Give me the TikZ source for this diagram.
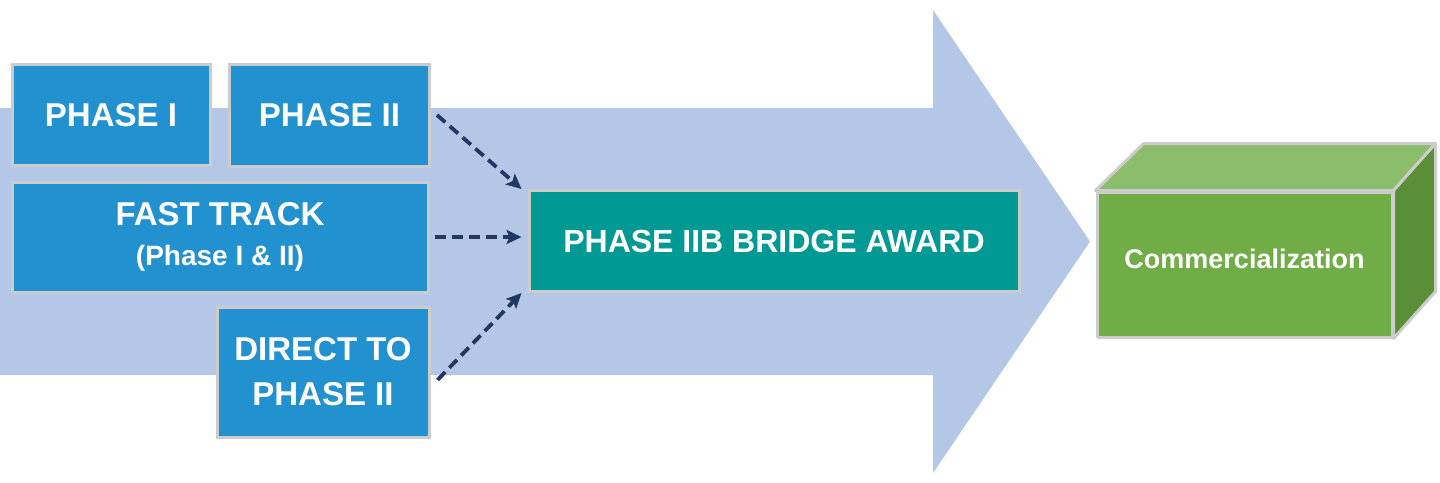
\documentclass[tikz,border=0pt]{standalone}
\usepackage{fontspec}
\setmainfont{Liberation Sans}
\usetikzlibrary{arrows.meta,calc}
\definecolor{bigarrow}{RGB}{180,199,231}
\definecolor{boxblue}{RGB}{33,145,208}
\definecolor{boxteal}{RGB}{0,153,148}
\definecolor{boxgray}{RGB}{204,204,204}
\definecolor{navy}{RGB}{32,56,100}
\definecolor{gfront}{RGB}{112,173,71}
\definecolor{gtop}{RGB}{140,189,106}
\definecolor{gside}{RGB}{90,143,56}
\tikzset{
  phasebox/.style={draw=boxgray, line width=3pt, fill=boxblue, text=white,
    font=\bfseries\fontsize{33}{45}\selectfont, align=center, inner sep=0pt},
  bridgebox/.style={phasebox, fill=boxteal, font=\bfseries\fontsize{32}{40}\selectfont},
  cubeface/.style={draw=boxgray, line width=3pt, line join=round},
  dasharrow/.style={draw=navy, line width=3.8pt, dash pattern=on 11pt off 6pt,
    -{Stealth[length=15pt,width=14pt,inset=3pt]}}
}
\begin{document}
\begin{tikzpicture}[x=1pt,y=-1pt]
\useasboundingbox (0,0) rectangle (1440,482);
% big background arrow
\fill[bigarrow] (0,108) -- (933,108) -- (933,10) -- (1090,241.5) -- (933,473) -- (933,375) -- (0,375) -- cycle;
% boxes
\node[phasebox, minimum width=198pt, minimum height=101pt] (p1) at (111,115) {PHASE I};
\node[phasebox, minimum width=200pt, minimum height=102pt] (p2) at (329.5,115) {PHASE II};
\node[phasebox, minimum width=416pt, minimum height=110pt] (ft) at (220,237)
  {FAST TRACK\\[-5pt]{\fontsize{28}{37}\selectfont (Phase I \& II)}};
\node[phasebox, minimum width=212pt, minimum height=130pt] (dp) at (323,372)
  {DIRECT TO\\PHASE II};
\node[bridgebox, minimum width=490pt, minimum height=101pt] (iib) at (774,241)
  {PHASE IIB BRIDGE AWARD};
% cube
\node[cubeface, fill=gfront, text=white, font=\bfseries\fontsize{27}{32}\selectfont,
  minimum width=295pt, minimum height=145pt, inner sep=0pt] (cf) at (1244.5,264.5)
  {\raisebox{12pt}{Commercialization}};
\filldraw[cubeface, fill=gtop] (cf.north west) -- ([shift={(48,-47)}]cf.north west)
  -- ([shift={(42,-47)}]cf.north east) -- (cf.north east) -- cycle;
\filldraw[cubeface, fill=gside] (cf.north east) -- ([shift={(42,-47)}]cf.north east)
  -- ([shift={(42,-47)}]cf.south east) -- (cf.south east) -- cycle;
% dashed connectors
\draw[dasharrow] ([xshift=6pt]p2.east) -- ([xshift=-6pt]iib.north west);
\draw[dasharrow] ([xshift=5pt]ft.east) -- ([xshift=-6pt]ft.east -| iib.west);
\draw[dasharrow] ([xshift=7pt,yshift=-8pt]dp.east) -- ([xshift=-6pt]iib.south west);
\end{tikzpicture}
\end{document}
